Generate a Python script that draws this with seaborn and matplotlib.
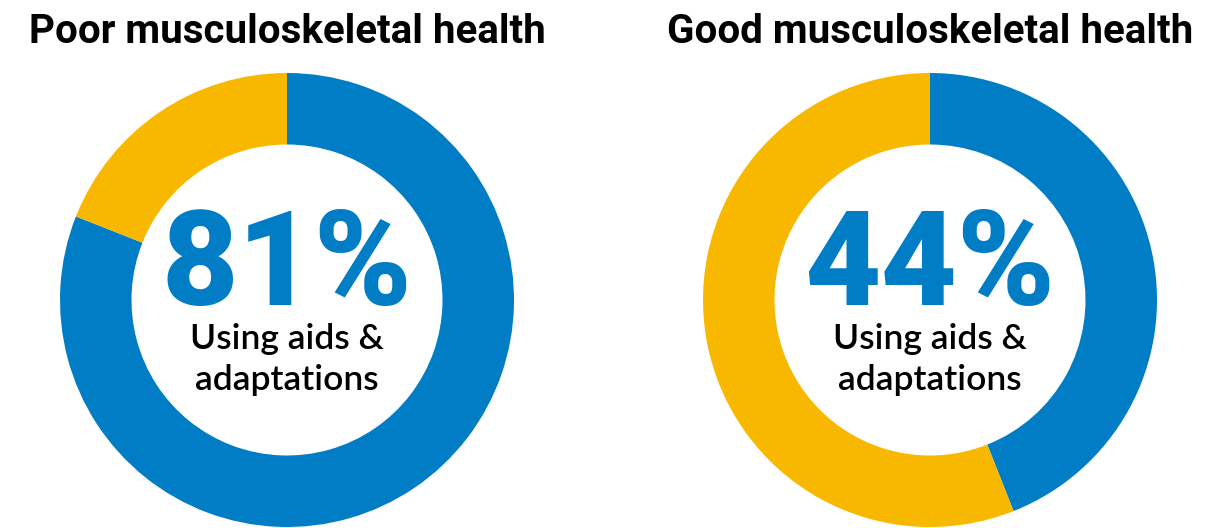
import matplotlib
matplotlib.use("Agg")
import matplotlib.pyplot as plt
import seaborn as sns

sns.set_theme(style="white")

# Data
titles = ["Poor musculoskeletal health", "Good musculoskeletal health"]
using_aids = [81, 44]          # % using aids & adaptations
not_using = [100 - v for v in using_aids]
subtitle_lines = ["Using aids &", "adaptations"]
colors = ["#007DC5", "#F9B800"]

W, H = 1231, 528
fig = plt.figure(figsize=(W / 100, H / 100), dpi=100)
fig.patch.set_facecolor("white")

centers_x = [287, 930]
center_y = 300
R = 227

for i in range(2):
    left = (centers_x[i] - R) / W
    bottom = (H - center_y - R) / H
    ax = fig.add_axes([left, bottom, 2 * R / W, 2 * R / H])
    ax.pie([using_aids[i], not_using[i]], colors=colors, startangle=90,
           counterclock=False, radius=1,
           wedgeprops=dict(width=0.315, edgecolor="none", linewidth=0))
    ax.set_xlim(-1, 1)
    ax.set_ylim(-1, 1)
    ax.set_aspect("equal")
    ax.axis("off")
    ax.text(0, -0.022, f"{using_aids[i]}%", ha="center", va="baseline",
            color=colors[0], fontsize=95, fontweight=900,
            family="Roboto")
    for j, (line, y) in enumerate(zip(subtitle_lines, [-0.216, -0.396])):
        ax.text(0, y, line, ha="center", va="baseline",
                color="black", fontsize=25.5, family="Lato", fontweight=600)
    fig.text(centers_x[i] / W, (H - 43) / H, titles[i], ha="center",
             va="baseline", fontsize=29, fontweight="bold", family="Roboto",
             color="black")

fig.savefig("out.png", dpi=100, facecolor="white")
